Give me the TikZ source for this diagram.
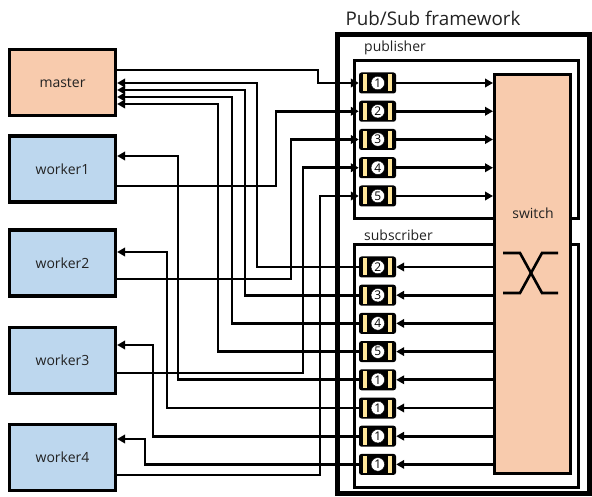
\documentclass[tikz,border=0pt]{standalone}
\usepackage{fontspec}
\setmainfont{Open Sans}
\usetikzlibrary{arrows.meta,calc}
\definecolor{peach}{HTML}{F8CBAD}
\definecolor{lblue}{HTML}{BDD7EE}
\definecolor{qyel}{HTML}{FFE699}
\definecolor{txt}{HTML}{222222}
\newcommand\qnode[3]{%
  \node[qbox] (#1) at (#2) {};
  \fill[qyel] ($(#1.center)+(-15,-8.5)$) rectangle ($(#1.center)+(-11,8.5)$);
  \fill[qyel] ($(#1.center)+(10.5,-8.5)$) rectangle ($(#1.center)+(14.5,8.5)$);
  \node[qnum] (#1n) at ($(#1.center)+(0.3,0)$) {#3};
}
\begin{document}
\begin{tikzpicture}[x=1pt,y=-1pt,
  box/.style={draw=black, line width=3.2pt, minimum width=106pt, minimum height=66pt,
    inner sep=0pt, font=\fontsize{14}{16}\selectfont, text=txt},
  lbl/.style={inner sep=0pt, font=\fontsize{14}{16}\selectfont, text=txt},
  qbox/.style={rectangle, fill=black, rounded corners=2.5pt, minimum width=37pt,
    minimum height=21pt, inner sep=0pt},
  qnum/.style={circle, fill=white, draw=black, line width=0.4pt, inner sep=0pt,
    minimum size=13.5pt, font=\fontsize{12}{12}\selectfont},
  conn/.style={line width=2.7pt, -{Triangle[length=8pt,width=8.5pt]}},
  frame/.style={line width=3pt}
]
\useasboundingbox (0,0) rectangle (592,497);

% framework frame and sub-boxes
\draw[line width=5pt] (337,35) rectangle (589,493);
\draw[frame] (354,61) rectangle (578,219);
\draw[frame] (354,245) rectangle (578,487);
\node[inner sep=0pt, font=\fontsize{18.8}{20}\selectfont, text=txt] (title) at (433,18) {Pub/Sub framework};
\node[lbl, anchor=west] (publbl) at (364,48) {publisher};
\node[lbl, anchor=west] (sublbl) at (364,235) {subscriber};

% left boxes
\node[box, fill=peach] (master) at (62.5,82.5) {master};
\node[box, fill=lblue] (w1) at (62.5,169) {worker1};
\node[box, fill=lblue] (w2) at (62.5,263) {worker2};
\node[box, fill=lblue] (w3) at (62.5,360.5) {worker3};
\node[box, fill=lblue] (w4) at (62.5,457.5) {worker4};

% switch
\node[draw=black, line width=3pt, fill=peach, minimum width=76pt, minimum height=399pt,
  inner sep=0pt] (switch) at (532.5,274) {};
\node[lbl] (swlbl) at (533,213) {switch};
\draw[line width=2.6pt] (503,253) -- (520,253) -- (542,293) -- (558,293);
\draw[line width=2.6pt] (503,293) -- (520,293) -- (542,253) -- (558,253);

% queues
\qnode{pub1}{377.5,83}{1}
\qnode{pub2}{377.5,111.25}{2}
\qnode{pub3}{377.5,139.5}{3}
\qnode{pub4}{377.5,167.75}{4}
\qnode{pub5}{377.5,196}{5}
\qnode{s2}{377.5,267}{2}
\qnode{s3}{377.5,295.2}{3}
\qnode{s4}{377.5,323.4}{4}
\qnode{s5}{377.5,351.6}{5}
\qnode{s1a}{377.5,379.8}{1}
\qnode{s1b}{377.5,408}{1}
\qnode{s1c}{377.5,436.2}{1}
\qnode{s1d}{377.5,464.4}{1}

% publisher -> switch, switch -> subscriber
\foreach \p in {pub1,pub2,pub3,pub4,pub5}
  \draw[conn] (\p.east) -- (switch.west |- \p);
\foreach \s in {s2,s3,s4,s5,s1a,s1b,s1c,s1d}
  \draw[conn] (switch.west |- \s) -- (\s.east);

% master
\draw[conn] (master.east |- 0,70) -- (318,70) |- (pub1.west);
\draw[conn] (s2.west) -| (257,83) -- (master.east |- 0,83);
\draw[conn] (s3.west) -| (245,90) -- (master.east |- 0,90);
\draw[conn] (s4.west) -| (232,97) -- (master.east |- 0,97);
\draw[conn] (s5.west) -| (218,104) -- (master.east |- 0,104);
% worker1
\draw[conn] (w1.east |- 0,186) -- (276,186) |- (pub2.west);
\draw[conn] (s1a.west) -| (178,156) -- (w1.east |- 0,156);
% worker2
\draw[conn] (w2.east |- 0,279) -- (291,279) |- (pub3.west);
\draw[conn] (s1b.west) -| (167,252) -- (w2.east |- 0,252);
% worker3
\draw[conn] (w3.east |- 0,373) -- (303,373) |- (pub4.west);
\draw[conn] (s1c.west) -| (153,345) -- (w3.east |- 0,345);
% worker4
\draw[conn] (w4.east |- 0,475) -- (320,475) |- (pub5.west);
\draw[conn] (s1d.west) -| (145,439) -- (w4.east |- 0,439);
\end{tikzpicture}
\end{document}
